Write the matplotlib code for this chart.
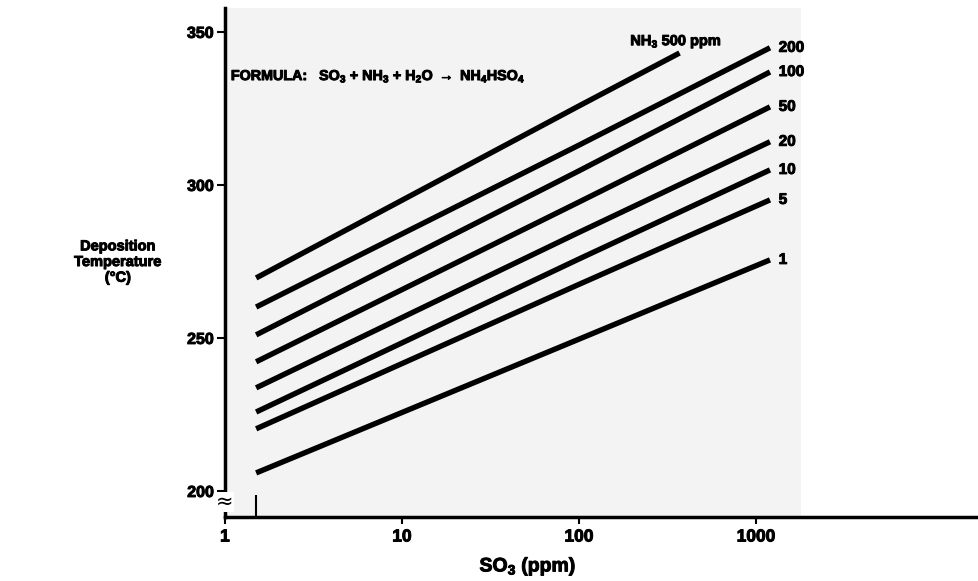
import numpy as np
import matplotlib.pyplot as plt
import matplotlib.patheffects as pe
from matplotlib.ticker import FixedLocator, NullFormatter

plt.rcParams['font.family'] = ['Liberation Sans', 'DejaVu Sans']
plt.rcParams['font.weight'] = 'bold'
plt.rcParams['mathtext.fontset'] = 'custom'
plt.rcParams['mathtext.rm'] = 'Liberation Sans:bold'
plt.rcParams['mathtext.it'] = 'Liberation Sans:bold'
plt.rcParams['mathtext.bf'] = 'Liberation Sans:bold'

# SO3 concentration (ppm) where each curve is read
so3_pts = [1.5, 100, 1200]
so3_pts_500 = [1.5, 100, 370]

# NH3 concentration (ppm) -> deposition temperature (deg C)
nh3_levels = ['500', '200', '100', '50', '20', '10', '5', '1']
t_500 = [269.6, 325.8, 343.1]
t_200 = [260.1, 313.0, 344.8]
t_100 = [251.0, 304.6, 336.9]
t_50 = [242.2, 294.4, 325.5]
t_20 = [233.7, 284.5, 314.1]
t_10 = [225.8, 275.8, 304.9]
t_5 = [220.3, 267.5, 295.1]
t_1 = [205.9, 249.6, 275.5]
temps = [t_500, t_200, t_100, t_50, t_20, t_10, t_5, t_1]

x_ticks = [1, 10, 100, 1000]
y_ticks = [200, 250, 300, 350]

# heavier lettering, like the old typeset figure
heavy = [pe.withStroke(linewidth=0.7, foreground='black')]

fig = plt.figure(figsize=(9.79, 5.81), dpi=100)
ax = fig.add_axes([0.2298, 0.1102, 0.7702, 0.876])

# light halftone shading behind the curves
ax.axvspan(1, 1800, color='#f3f3f3', zorder=0, lw=0)

for lvl, t in zip(nh3_levels, temps):
    xs = so3_pts_500 if lvl == '500' else so3_pts
    ax.plot(xs, t, color='black', lw=3.9, solid_capstyle='butt', zorder=3)
    if lvl == '500':
        ax.text(195, 346.8, 'NH$_3$ 500 ppm', fontsize=10.5, ha='left', va='center',
                path_effects=heavy)
    else:
        ax.text(xs[-1] * 1.12, t[-1], lvl, fontsize=11, ha='left', va='center',
                path_effects=heavy)

ax.text(1.08, 335.5,
        r'FORMULA:   SO$_3$ + NH$_3$ + H$_2$O $\rightarrow$ NH$_4$HSO$_4$',
        fontsize=10.3, ha='left', va='center', path_effects=heavy)

ax.set_xscale('log')
ax.set_xlim(1, 10 ** 4.26)
ax.set_ylim(191.5, 357.8)

ax.xaxis.set_major_locator(FixedLocator(x_ticks))
ax.set_xticklabels([str(v) for v in x_ticks], fontsize=12.5)
ax.xaxis.set_minor_locator(FixedLocator([1.5]))
ax.xaxis.set_minor_formatter(NullFormatter())
ax.tick_params(axis='x', which='major', direction='out', length=5, width=1.5, pad=4)
ax.tick_params(axis='x', which='minor', direction='in', length=16, width=1.5)

ax.set_yticks(y_ticks)
ax.set_yticklabels([str(v) for v in y_ticks], fontsize=11.5)
ax.tick_params(axis='y', direction='out', length=6, width=1.5, pad=2)
for lab in ax.get_xticklabels() + ax.get_yticklabels():
    lab.set_path_effects(heavy)

for side in ['top', 'right']:
    ax.spines[side].set_visible(False)
for side in ['left', 'bottom']:
    ax.spines[side].set_linewidth(2.5)

# axis break mark below 200
ax.text(1, 196.5, '\u2248', fontsize=15, ha='center', va='center',
        family='DejaVu Sans', fontweight='normal', zorder=5, clip_on=False,
        bbox=dict(boxstyle='square,pad=0.0', fc='white', ec='none'))

fig.text(528 / 979, 1 - 567 / 581, 'SO$_3$ (ppm)', fontsize=14, ha='center', va='center',
         path_effects=heavy)
fig.text(0.1205, 0.549, 'Deposition\nTemperature\n(\u00b0C)', fontsize=10.5,
         ha='center', va='center', linespacing=1.15, path_effects=heavy)

fig.savefig('out.png', dpi=100)
